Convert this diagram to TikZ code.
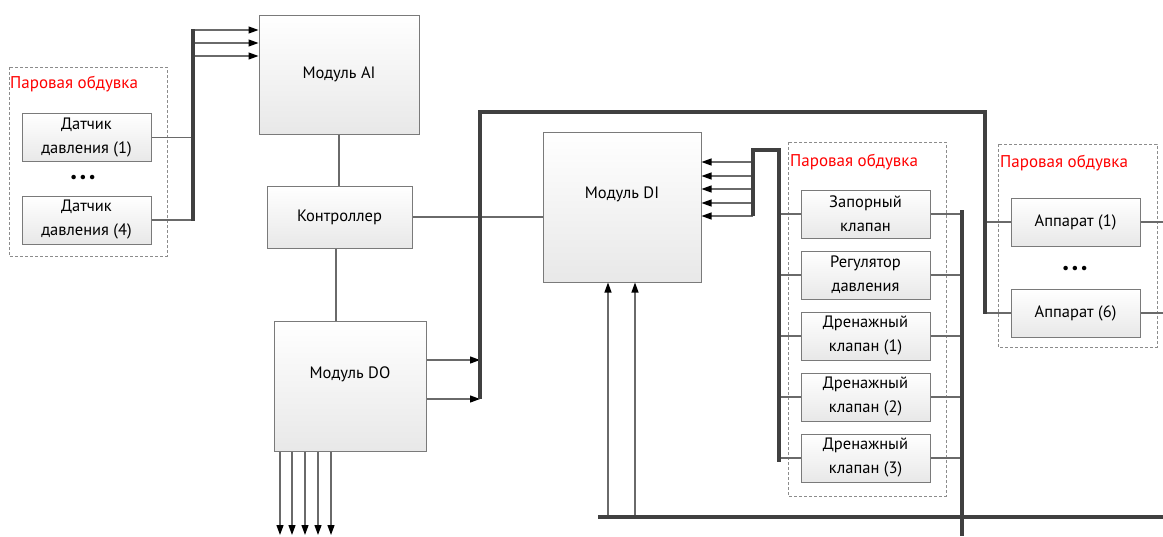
\documentclass[tikz,border=0pt]{standalone}
\usepackage{fontspec}
\setmainfont{PT Sans}
\usetikzlibrary{arrows.meta}
\definecolor{boxgray}{HTML}{7A7A7A}
\definecolor{lngray}{HTML}{6A6A6A}
\definecolor{busgray}{HTML}{404040}
\definecolor{grpgray}{HTML}{8C8C8C}
\begin{document}
\begin{tikzpicture}[x=1pt,y=-1pt,
  box/.style={draw=boxgray, line width=1pt, top color=white, bottom color=black!9, align=center, inner sep=0pt, font=\fontsize{16.5}{24}\selectfont},
  grp/.style={draw=grpgray, dash pattern=on 3pt off 2pt, line width=0.8pt},
  ln/.style={draw=lngray, line width=1.2pt},
  bus/.style={draw=busgray, line width=4pt},
  arr/.style={ln, -{Triangle[length=10pt,width=7pt,color=black]}},
  ttl/.style={text=red, anchor=west, inner sep=0pt, font=\fontsize{17}{20}\selectfont},
  dots/.style={inner sep=0pt, font=\fontsize{16}{20}\selectfont},
  small/.style={minimum width=129pt, minimum height=48pt}
]
\useasboundingbox (0,0) rectangle (1163,536);

% groups
\draw[grp] (9,67) rectangle (167,256);
\draw[grp] (788,142) rectangle (946,496);
\draw[grp] (998,144) rectangle (1157,347);
\node[ttl] (t1) at (10,84) {Паровая обдувка};
\node[ttl] (t2) at (790,162) {Паровая обдувка};
\node[ttl] (t3) at (1000,163) {Паровая обдувка};

% nodes
\node[box, small] (s1) at (86.5,137.5) {Датчик\\давления (1)};
\node[dots] (d1) at (83,179) {•\hspace{2pt}•\hspace{2pt}•};
\node[box, small] (s4) at (86.5,220) {Датчик\\давления (4)};
\node[box, minimum width=160pt, minimum height=119pt] (ai) at (339,74.5) {Модуль AI};
\node[box, minimum width=145pt, minimum height=62pt] (ctrl) at (339.5,217) {Контроллер};
\node[box, minimum width=152pt, minimum height=130pt] (do) at (350,386) {\raisebox{26pt}{Модуль DO}};
\node[box, minimum width=158pt, minimum height=150pt] (di) at (622,207) {\raisebox{28pt}{Модуль DI}};
\node[box, small] (zk) at (865.5,214) {Запорный\\клапан};
\node[box, small] (reg) at (865.5,275) {Регулятор\\давления};
\node[box, small] (dr1) at (865.5,336) {Дренажный\\клапан (1)};
\node[box, small] (dr2) at (865.5,397) {Дренажный\\клапан (2)};
\node[box, small] (dr3) at (865.5,458) {Дренажный\\клапан (3)};
\node[box, small] (ap1) at (1075.5,222) {Аппарат (1)};
\node[dots] (d2) at (1075,270) {•\hspace{2pt}•\hspace{2pt}•};
\node[box, small] (ap6) at (1075.5,313) {Аппарат (6)};

% coordinates
\coordinate (b1t) at (193,29);
\coordinate (b1b) at (193,221);
\coordinate (b2a) at (480,399);
\coordinate (b2b) at (480,112);
\coordinate (b2c) at (985,112);
\coordinate (b2d) at (985,314);
\coordinate (b4a) at (753,216);
\coordinate (b4b) at (753,150);
\coordinate (b4c) at (779,150);
\coordinate (b4d) at (779,462);
\coordinate (b3a) at (962,210);
\coordinate (b3b) at (962,536);
\coordinate (bba) at (598,517);
\coordinate (bbb) at (1163,517);
\coordinate (edge) at (1163,0);

% sensor lines
\draw[ln] (s1.east) -- (s1.east -| b1t);
\draw[ln] (s4.east) -- (s4.east -| b1t);
% AI inputs
\foreach \y [count=\i] in {30,43,56} {
  \coordinate (ai\i) at (193,\y);
  \draw[arr] (ai\i) -- (ai\i -| ai.west);
}
% controller links
\draw[ln] (ai.south) -- (ai.south |- ctrl.north);
\coordinate (cd) at (336,0);
\draw[ln] (cd |- ctrl.south) -- (cd |- do.north);
\draw[ln] (ctrl.east) -- (ctrl.east -| di.west);
% DO outputs right
\foreach \y [count=\i] in {360,399} {
  \coordinate (do\i) at (480,\y);
  \draw[arr] (do\i -| do.east) -- (do\i);
}
% DO outputs down
\foreach \x [count=\i] in {280,292,305,318,331} {
  \coordinate (dd\i) at (\x,535);
  \draw[arr] (dd\i |- do.south) -- (dd\i);
}
% DI inputs right
\foreach \y [count=\i] in {162,176,189,203,216} {
  \coordinate (di\i) at (753,\y);
  \draw[arr] (di\i) -- (di\i -| di.east);
}
% DI inputs bottom
\foreach \x [count=\i] in {608,635} {
  \coordinate (db\i) at (\x,517);
  \draw[arr] (db\i) -- (db\i |- di.south);
}
% valves
\foreach \n in {zk,reg,dr1,dr2,dr3} {
  \draw[ln] (b4c |- \n.west) -- (\n.west);
  \draw[ln] (\n.east) -- (\n.east -| b3a);
}
% apparatus
\foreach \n in {ap1,ap6} {
  \draw[ln] (b2c |- \n.west) -- (\n.west);
  \draw[ln] (\n.east) -- (\n.east -| edge);
}

% buses
\draw[bus] (b1t) -- (b1b);
\draw[bus] (b2a) -- (b2b) -- (b2c) -- (b2d);
\draw[bus] (b4a) -- (b4b) -- (b4c) -- (b4d);
\draw[bus] (b3a) -- (b3b);
\draw[bus] (bba) -- (bbb);
\end{tikzpicture}
\end{document}
